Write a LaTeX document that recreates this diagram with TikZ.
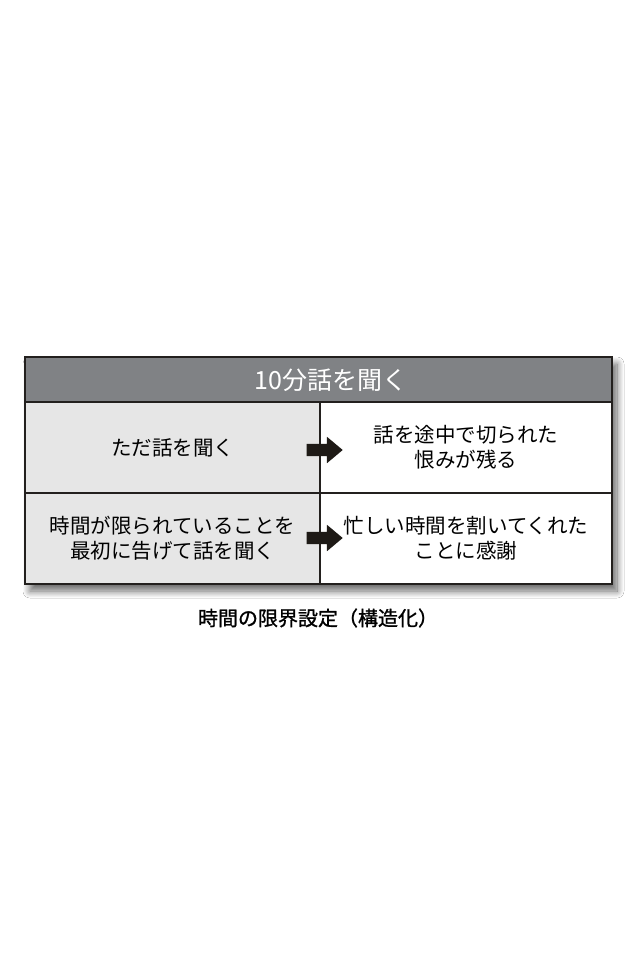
\documentclass[tikz,border=0pt]{standalone}
\usepackage{fontspec}
\newfontfamily\jpfont{Noto Sans CJK JP}
\newfontfamily\jpmedium[FakeBold=1.2]{Noto Sans CJK JP}
\usepackage{tikz}
\usetikzlibrary{positioning}
\usetikzlibrary{shapes.arrows}
\usetikzlibrary{shadows.blur}
\definecolor{headgray}{RGB}{128,130,133}
\definecolor{cellgray}{RGB}{230,230,230}
\definecolor{linedark}{RGB}{35,32,30}
\definecolor{arrowdark}{RGB}{30,26,22}

\begin{document}
\begin{tikzpicture}[x=1pt, y=-1pt,
		cell/.style={rectangle, draw=linedark, line width=1.2pt, minimum height=91pt, align=center, inner sep=0pt, font=\jpfont\fontsize{20.5}{25}\selectfont},
		pointer/.style={single arrow, fill=arrowdark, inner sep=6pt, single arrow head extend=7pt, minimum height=36pt, single arrow tip angle=80}]
				\useasboundingbox (0,0) rectangle (640,960);
				\fill[white] (0,0) rectangle (640,960);
				
				% shadow of the whole table
				\fill[white, blur shadow={shadow xshift=5pt, shadow yshift=-7pt, shadow blur steps=12, shadow blur radius=7pt, shadow opacity=60}] (25,357) rectangle (612,584);
				
				\node[rectangle, fill=headgray, draw=linedark, line width=1.2pt, minimum width=587pt, minimum height=45pt, inner sep=0pt] (head) at (318.5,379.5) {};
				\node[text=white, font=\jpfont\fontsize{25}{28}\selectfont, inner sep=0pt] (title) at (331,380) {10分話を聞く};
				\node[cell, fill=cellgray, minimum width=295pt] (a1) at (172.5,447.5) {ただ話を聞く};
				\node[cell, fill=white, minimum width=292pt] (b1) at (466,447.5) {話を途中で切られた\\恨みが残る};
				\node[cell, fill=cellgray, minimum width=295pt] (a2) at (172.5,538.5) {時間が限られていることを\\最初に告げて話を聞く};
				\node[cell, fill=white, minimum width=292pt] (b2) at (466,538.5) {忙しい時間を割いてくれた\\ことに感謝};
				\draw[linedark, line width=1.6pt] (head.north west) rectangle (b2.south east);
				
				\node[pointer] (p1) at (321,450) {};
				\node[pointer] (p2) at (321,538) {};
				
				\node[font=\jpmedium\fontsize{20}{24}\selectfont] (cap) at (318,618) {時間の限界設定（構造化）};
			\end{tikzpicture}
\end{document}
